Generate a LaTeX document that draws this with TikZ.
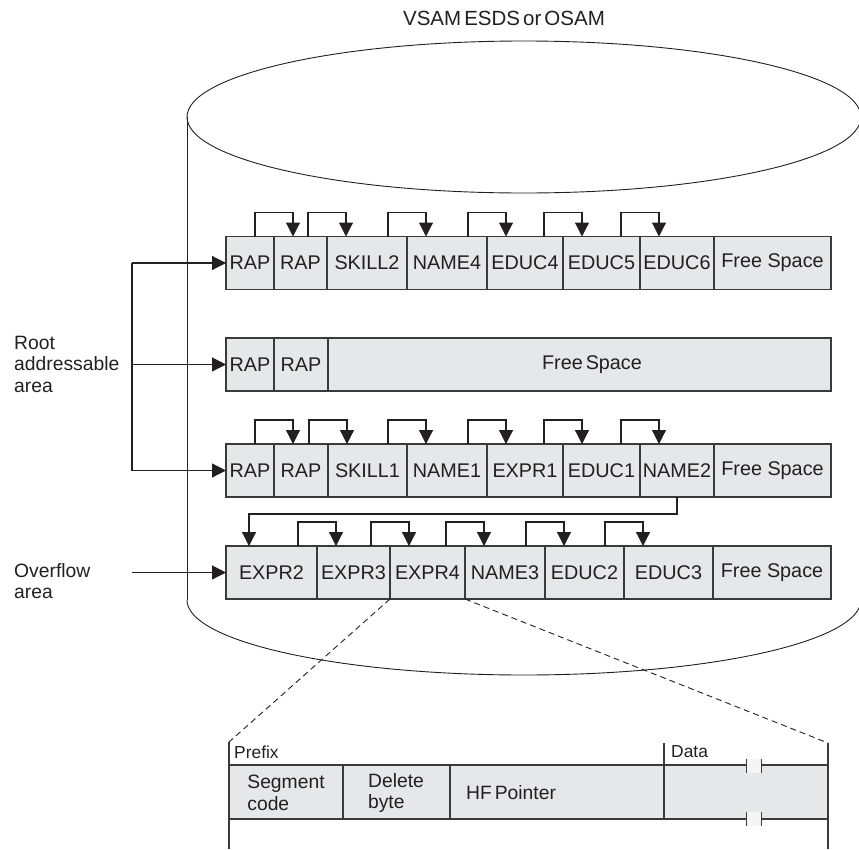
\documentclass[tikz,border=0pt]{standalone}
\usepackage{fontspec}
\setmainfont{Liberation Sans}
\usetikzlibrary{arrows.meta}
\definecolor{cellfill}{HTML}{E6E7E8}
\definecolor{edge}{HTML}{3A3A3A}
\definecolor{ink}{HTML}{231F20}
\newcommand\mycellfont{\fontsize{19.8}{21.5}\selectfont}
\newcommand\mylblfont{\fontsize{19.3}{21.5}\selectfont}
\newcommand\mysmallfont{\fontsize{17.4}{20}\selectfont}
\begin{document}
\begin{tikzpicture}[x=1pt,y=-1pt,
  cell/.style={draw=edge, fill=cellfill, line width=1.4pt, minimum height=53pt,
    inner sep=0pt, outer sep=0pt, text=ink, font=\mycellfont},
  ptr/.style={draw=ink, line width=1.2pt, -{Triangle[length=14pt,width=14pt]}},
  cyl/.style={draw=ink, line width=0.9pt},
  lbl/.style={anchor=west, inner sep=0pt, align=left, text=ink, font=\mylblfont},
  zoomline/.style={draw=ink, line width=0.9pt, dash pattern=on 6pt off 4pt},
  detline/.style={draw=edge, line width=1.3pt},
  dtext/.style={inner sep=0pt, align=left, text=ink, font=\mylblfont}]
\useasboundingbox (0,0) rectangle (859,849);
\clip (0,0) rectangle (859,849);

% title
\node[text=ink, font=\fontsize{20.5}{23}\selectfont] (title) at (504,18) {VSAM\hspace{0.15em}ESDS\hspace{0.15em}or\hspace{0.15em}OSAM};

% cylinder
\draw[cyl] (524,117) ellipse [x radius=337, y radius=76];
\draw[cyl] (187,117) -- (187,600);
\draw[cyl] plot[domain=0:180, samples=90, smooth] ({524+337*cos(\x)},{600+75*sin(\x)});

% row 1
\node[cell, minimum width=48pt] (r1a) at (250,263) {RAP};
\node[cell, minimum width=53pt] (r1b) at (300.5,263) {RAP};
\node[cell, minimum width=80pt] (r1c) at (367,263) {SKILL2};
\node[cell, minimum width=80pt] (r1d) at (447,263) {NAME4};
\node[cell, minimum width=76pt] (r1e) at (525,263) {EDUC4};
\node[cell, minimum width=77pt] (r1f) at (601.5,263) {EDUC5};
\node[cell, minimum width=74pt] (r1g) at (677,263) {EDUC6};
\node[cell, minimum width=117pt] (r1h) at (772.5,263) {Free Space};

% row 2
\node[cell, minimum width=48pt] (r2a) at (250,364.5) {RAP};
\node[cell, minimum width=54pt] (r2b) at (301,364.5) {RAP};
\node[cell, minimum width=503pt] (r2c) at (579.5,364.5) {\hspace{25pt}Free\hspace{0.15em}Space};

% row 3
\node[cell, minimum width=48pt] (r3a) at (250,470.5) {RAP};
\node[cell, minimum width=54pt] (r3b) at (301,470.5) {RAP};
\node[cell, minimum width=79pt] (r3c) at (367.5,470.5) {SKILL1};
\node[cell, minimum width=80pt] (r3d) at (447,470.5) {NAME1};
\node[cell, minimum width=76pt] (r3e) at (525,470.5) {EXPR1};
\node[cell, minimum width=77pt] (r3f) at (601.5,470.5) {EDUC1};
\node[cell, minimum width=74pt] (r3g) at (677,470.5) {NAME2};
\node[cell, minimum width=117pt] (r3h) at (772.5,470.5) {Free Space};

% row 4
\node[cell, minimum width=91pt] (r4a) at (271.5,572.5) {EXPR2};
\node[cell, minimum width=73pt] (r4b) at (353.5,572.5) {EXPR3};
\node[cell, minimum width=75pt] (r4c) at (427.5,572.5) {EXPR4};
\node[cell, minimum width=80pt] (r4d) at (505,572.5) {NAME3};
\node[cell, minimum width=79pt] (r4e) at (584.5,572.5) {EDUC2};
\node[cell, minimum width=89pt] (r4f) at (668.5,572.5) {EDUC3};
\node[cell, minimum width=118pt] (r4g) at (772,572.5) {Free Space};

% pointer arrows
\foreach \n in {r1a,r1b,r1c,r1d,r1e,r1f,r3a,r3b,r3c,r3d,r3e,r3f,r4a,r4b,r4c,r4d,r4e}
  \draw[ptr] ([xshift=-19pt]\n.north east) -- ++(0,-24) -| ([xshift=19pt]\n.north east);
\draw[ptr] (r3g.south) -- ++(0,17) -| ([xshift=23pt]r4a.north west);

% left labels and bracket
\node[lbl] (root) at (14,364) {Root\\addressable\\area};
\node[lbl] (ovf) at (14,581) {Overflow\\area};
\coordinate (bt) at (132,263);
\coordinate (bm) at (132,364.5);
\coordinate (bb) at (132,470.5);
\coordinate (bo) at (132,572.5);
\draw[draw=ink, line width=1.2pt] (bt) -- (bb);
\draw[ptr] (bt) -- (r1a.west);
\draw[ptr] (bm) -- (r2a.west);
\draw[ptr] (bb) -- (r3a.west);
\draw[ptr] (bo) -- (r4a.west);

% zoom lines
\coordinate (dl) at (229,742);
\coordinate (dr) at (828,743);
\draw[zoomline] (r4c.south west) -- (dl);
\draw[zoomline] (r4c.south east) -- (dr);

% segment detail
\fill[cellfill] (229,765) rectangle (828,819);
\fill[gray!8] (746,759) rectangle (761,773);
\fill[gray!8] (746,812) rectangle (761,826);
\draw[detline] (229,765) -- (746,765) (761,765) -- (828,765);
\draw[detline] (229,819) -- (746,819) (761,819) -- (828,819);
\draw[detline] (dl) -- (229,849);
\draw[detline] (dr) -- (828,849);
\draw[detline] (664,743) -- (664,819);
\draw[detline] (343,765) -- (343,819);
\draw[detline] (450,765) -- (450,819);
\draw[draw=edge, line width=1pt] (746,759) -- (746,773) (761,759) -- (761,773)
  (746,812) -- (746,826) (761,812) -- (761,826);
\node[dtext, anchor=west, font=\mysmallfont] (prefix) at (234,752) {Prefix};
\node[dtext, anchor=west, font=\mysmallfont] (data) at (671,752) {Data};
\node[dtext] (seg) at (286,793) {Segment\\code};
\node[dtext] (del) at (396,793) {Delete\\byte};
\node[dtext, anchor=west] (hfp) at (466,793) {HF\hspace{0.15em}Pointer};
\end{tikzpicture}
\end{document}
